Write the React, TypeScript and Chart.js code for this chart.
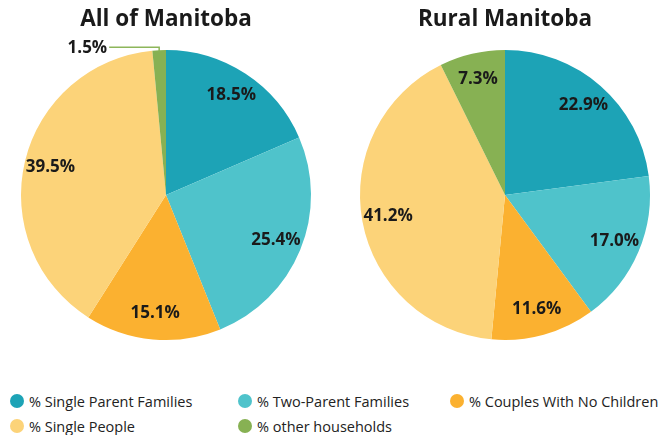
import React, { useEffect, useRef } from "react";
import { Chart, registerables } from "chart.js";

Chart.register(...registerables);

const categories = [
  "% Single Parent Families",
  "% Two-Parent Families",
  "% Couples With No Children",
  "% Single People",
  "% other households",
];
const colors = ["#1da3b6", "#4fc3cb", "#fbb130", "#fcd379", "#87b153"];
const allManitoba = [18.5, 25.4, 15.1, 39.5, 1.5];
const ruralManitoba = [22.9, 17.0, 11.6, 41.2, 7.3];
const titles = ["All of Manitoba", "Rural Manitoba"];

const FONT = "'Open Sans', 'Noto Sans', sans-serif";

const labelPlugin = {
  id: "pctLabels",
  afterDatasetsDraw(chart: any) {
    const ctx = chart.ctx;
    const meta = chart.getDatasetMeta(0);
    const data = chart.data.datasets[0].data as number[];
    ctx.save();
    ctx.font = `bold 17px ${FONT}`;
    ctx.fillStyle = "#1a1a1a";
    meta.data.forEach((arc: any, i: number) => {
      const v = data[i];
      const mid = (arc.startAngle + arc.endAngle) / 2;
      const r = arc.outerRadius;
      const txt = v.toFixed(1) + "%";
      if (v < 3) {
        const ex = arc.x + Math.cos(mid) * r;
        const ey = arc.y + Math.sin(mid) * r;
        const ly = ey - 3;
        ctx.strokeStyle = "#8db65a";
        ctx.lineWidth = 1.5;
        ctx.beginPath();
        ctx.moveTo(ex, ey + 1);
        ctx.lineTo(ex, ly);
        ctx.lineTo(ex - 50, ly);
        ctx.stroke();
        ctx.textAlign = "right";
        ctx.textBaseline = "middle";
        ctx.fillText(txt, ex - 52, ly + 1);
      } else {
        const d = r * 0.82;
        ctx.textAlign = "center";
        ctx.textBaseline = "middle";
        ctx.fillText(txt, arc.x + Math.cos(mid) * d, arc.y + Math.sin(mid) * d);
      }
    });
    ctx.restore();
  },
};

function Pie({ title, values, left }: { title: string; values: number[]; left: number }) {
  const ref = useRef<HTMLCanvasElement>(null);
  useEffect(() => {
    if (!ref.current) return;
    const chart = new Chart(ref.current, {
      type: "pie",
      data: {
        labels: categories,
        datasets: [{ data: values, backgroundColor: colors, borderWidth: 0 }],
      },
      options: {
        responsive: false,
        animation: false,
        layout: { padding: { top: 0, bottom: 30, left: 0, right: 0 } },
        plugins: {
          legend: { display: false },
          tooltip: { enabled: false },
          title: {
            display: true,
            text: title,
            color: "#1a1a1a",
            font: { family: FONT, size: 22.5, weight: "bold", lineHeight: 1.2 },
            padding: { top: 6, bottom: 17 },
          },
        },
      },
      plugins: [labelPlugin],
    });
    return () => chart.destroy();
  }, [title, values]);
  return (
    <canvas
      ref={ref}
      width={332}
      height={370}
      style={{ position: "absolute", left, top: 0, width: 332, height: 370 }}
    />
  );
}

const legendPos = [
  { x: 17, y: 401 },
  { x: 245, y: 401 },
  { x: 457, y: 401 },
  { x: 17, y: 426 },
  { x: 245, y: 426 },
];

export default function App() {
  useEffect(() => {
    document.body.style.margin = "0";
  }, []);
  return (
    <div style={{ position: "relative", width: 664, height: 435, background: "#fff", overflow: "hidden" }}>
      <Pie title={titles[0]} values={allManitoba} left={0} />
      <Pie title={titles[1]} values={ruralManitoba} left={339} />
      {categories.map((c, i) => (
        <div
          key={c}
          style={{
            position: "absolute",
            left: legendPos[i].x - 7,
            top: legendPos[i].y - 10,
            height: 20,
            display: "flex",
            alignItems: "center",
            fontFamily: FONT,
            fontSize: 14.5,
            color: "#222",
            whiteSpace: "nowrap",
          }}
        >
          <span
            style={{
              width: 14,
              height: 14,
              borderRadius: 7,
              background: colors[i],
              display: "inline-block",
              marginRight: 5,
            }}
          />
          {c}
        </div>
      ))}
    </div>
  );
}
